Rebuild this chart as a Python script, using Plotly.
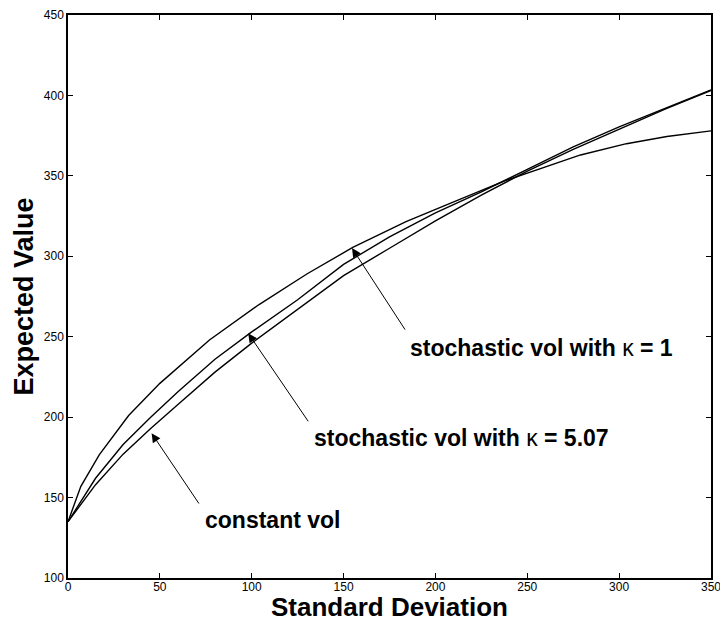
import plotly.graph_objects as go

# Data
x_k1 = [0, 7, 17, 33, 50, 77, 104, 130, 155, 184, 206, 238, 279, 304, 326, 350]
y_k1 = [135, 157, 176.5, 201, 221, 248, 270, 289, 305.5, 321.5, 332, 347, 363, 370, 374.5, 378]

x_grid = [0, 15, 30, 45, 60, 80, 100, 125, 150, 175, 200, 225, 250, 275, 300, 325, 350]
y_k507 = [135, 162, 183, 200, 216, 236, 253, 273, 295, 312, 327, 340, 354, 368, 380.5, 392, 403.5]
y_const = [135, 158, 177, 193, 208, 228, 246, 267, 288, 305, 322, 338, 353, 366.5, 379, 391.5, 403]

x_ticks = [0, 50, 100, 150, 200, 250, 300, 350]
y_ticks = [100, 150, 200, 250, 300, 350, 400, 450]

FONT = "Liberation Sans, Arial, Helvetica, sans-serif"

fig = go.Figure()
for xs, ys, name in [(x_k1, y_k1, "stochastic vol with κ = 1"),
                     (x_grid, y_k507, "stochastic vol with κ = 5.07"),
                     (x_grid, y_const, "constant vol")]:
    fig.add_trace(go.Scatter(x=xs, y=ys, mode="lines", name=name,
                             line=dict(color="black", width=1.4), showlegend=False))

# arrows: (tip x, tip y, tail x, tail y)
arrows = [(154.6, 305.1, 184.0, 253.5),
          (98.1, 252.1, 131.3, 196.5),
          (45.5, 190.0, 71.8, 145.4)]
for tx, ty, ax, ay in arrows:
    fig.add_annotation(x=tx, y=ty, ax=ax, ay=ay, xref="x", yref="y", axref="x", ayref="y",
                       text="", showarrow=True, arrowhead=2, arrowsize=1.8, arrowwidth=1,
                       arrowcolor="black")

labels = [(185.1, 243, "<b>stochastic vol with </b>κ<b> = 1</b>"),
          (132.6, 187, "<b>stochastic vol with </b>κ<b> = 5.07</b>"),
          (73.6, 136, "<b>constant vol</b>")]
for lx, ly, t in labels:
    fig.add_annotation(x=lx, y=ly, xref="x", yref="y", text=t, showarrow=False,
                       xanchor="left", yanchor="middle",
                       font=dict(family=FONT, size=23, color="black"))

# axis titles
fig.add_annotation(x=0.5, y=0, xref="paper", yref="paper", text="<b>Standard Deviation</b>",
                   showarrow=False, xanchor="center", yanchor="middle", yshift=-29,
                   font=dict(family=FONT, size=26, color="black"))
fig.add_annotation(x=0, y=0.5, xref="paper", yref="paper", text="<b>Expected Value</b>",
                   showarrow=False, xanchor="center", yanchor="middle", xshift=-45,
                   textangle=-90, font=dict(family=FONT, size=27, color="black"))

axis_common = dict(showgrid=False, zeroline=False, showline=True, linecolor="black",
                   linewidth=1.5, mirror="ticks", ticks="inside", ticklen=5,
                   tickwidth=1, tickcolor="black", automargin=False,
                   ticklabeloverflow="allow",
                   tickfont=dict(family=FONT, size=12, color="black"))

fig.update_xaxes(range=[0, 350], tickvals=x_ticks, ticktext=[str(v) for v in x_ticks],
                 ticklabelstandoff=-3, **axis_common)
fig.update_yaxes(range=[100, 450], tickvals=y_ticks, ticktext=[str(v) for v in y_ticks],
                 **axis_common)

fig.update_layout(width=720, height=622, margin=dict(l=68, r=9, t=15, b=44, pad=0),
                  plot_bgcolor="white", paper_bgcolor="white",
                  font=dict(family=FONT, color="black"))

fig.write_html("out.html", config={"displayModeBar": False},
               post_script="document.body.style.margin='0';document.body.style.overflow='hidden';")
